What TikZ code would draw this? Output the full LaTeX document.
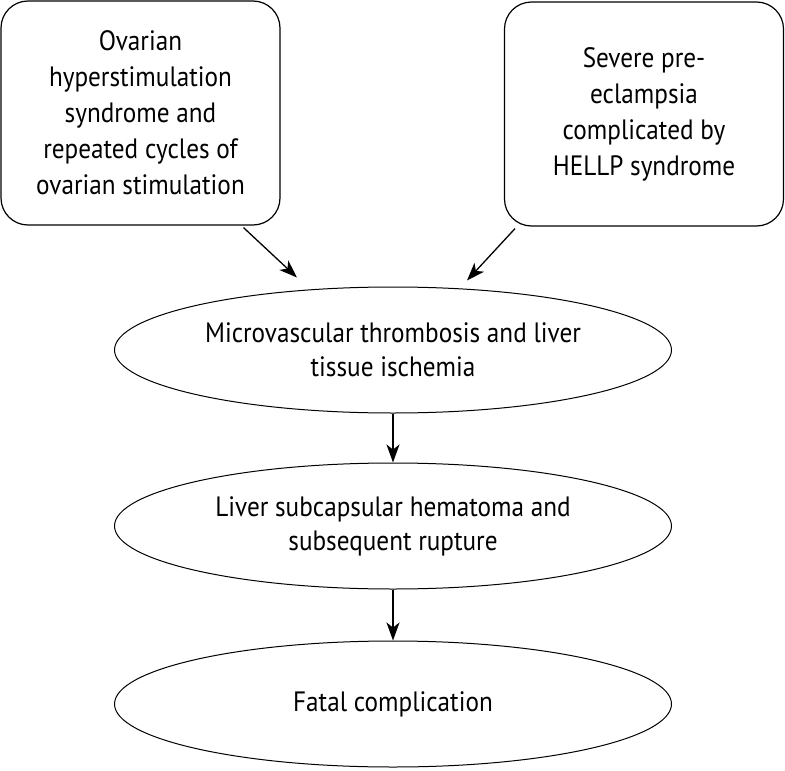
\documentclass[tikz,border=0pt]{standalone}
\usepackage{fontspec}
\setmainfont{PT Sans}[FakeStretch=0.9]
\usetikzlibrary{shapes.geometric,arrows.meta,calc}
\tikzset{
  boxnode/.style={draw=black, line width=1.2pt, rounded corners=27pt, minimum width=279pt, minimum height=224pt, align=center, inner sep=0pt, font=\fontsize{28}{36}\selectfont},
  ellnode/.style={draw=black, line width=1pt, ellipse, minimum width=557pt, minimum height=126pt, align=center, inner sep=0pt, font=\fontsize{28}{34}\selectfont},
  arr/.style={line width=1.3pt, -{Stealth[length=18pt,width=13pt,inset=5pt]}}
}
\begin{document}
\begin{tikzpicture}[x=1pt,y=-1pt]
\useasboundingbox (0,0) rectangle (785,771);
\node[boxnode] (L) at (140.5,113) {Ovarian\\hyperstimulation\\syndrome and\\repeated cycles of\\ovarian stimulation};
\node[boxnode] (R) at (644,114) {Severe pre-\\eclampsia\\complicated by\\HELLP syndrome};
\node[ellnode] (E1) at (393,350) {Microvascular thrombosis and liver\\tissue ischemia};
\node[ellnode] (E2) at (393,526) {Liver subcapsular hematoma and\\subsequent rupture};
\node[ellnode] (E3) at (393,704) {Fatal complication};
\draw[arr] ([xshift=103pt,yshift=-2pt]L.south) -- ([xshift=-96pt,yshift=9pt]E1.north);
\draw[arr] ([xshift=-129pt,yshift=-2pt]R.south) -- ([xshift=74pt,yshift=6pt]E1.north);
\draw[arr] (E1.south) -- (E2.north);
\draw[arr] (E2.south) -- (E3.north);
\end{tikzpicture}
\end{document}
